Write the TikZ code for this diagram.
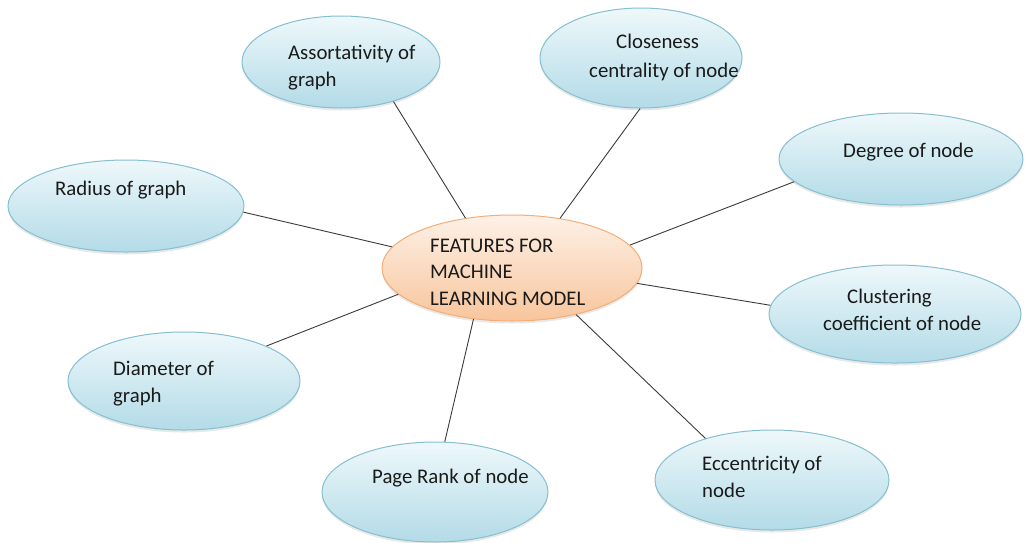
\documentclass[tikz,border=0pt]{standalone}
\usepackage{fontspec}
\setmainfont{Carlito}
\usetikzlibrary{shapes.geometric,shadows}
\definecolor{bluetop}{HTML}{EEF8FB}
\definecolor{bluebot}{HTML}{B3DBE7}
\definecolor{blueedge}{HTML}{86BFD0}
\definecolor{peachtop}{HTML}{FDF1E7}
\definecolor{peachbot}{HTML}{F8C59C}
\definecolor{peachedge}{HTML}{F3AE78}
\definecolor{linkcol}{HTML}{3A3A3A}
\definecolor{txtcol}{HTML}{1A1A1A}
\tikzset{
  feat/.style={ellipse, inner sep=0pt, line width=1pt, draw=blueedge,
    top color=bluetop, bottom color=bluebot,
    drop shadow={opacity=0.18, shadow xshift=0pt, shadow yshift=-2.5pt}},
  hub/.style={ellipse, inner sep=0pt, line width=1pt, draw=peachedge,
    top color=peachtop, bottom color=peachbot,
    drop shadow={opacity=0.18, shadow xshift=0pt, shadow yshift=-2.5pt}},
  lbl/.style={anchor=base west, inner sep=0pt, align=left, text=txtcol,
    font=\fontsize{20.8}{26.5}\selectfont},
  link/.style={draw=linkcol, line width=0.9pt}
}
\begin{document}
\begin{tikzpicture}[x=1pt,y=-1pt]
\useasboundingbox (0,0) rectangle (1025,542);
% ellipses
\node[feat, minimum width=198, minimum height=92] (A) at (341,62) {};
\node[feat, minimum width=202, minimum height=100] (K) at (641,58) {};
\node[feat, minimum width=244, minimum height=92] (D) at (901,159) {};
\node[feat, minimum width=236, minimum height=92] (R) at (126,206) {};
\node[hub, minimum width=260, minimum height=106] (C) at (512,268) {};
\node[feat, minimum width=252, minimum height=98] (L) at (895,314) {};
\node[feat, minimum width=232, minimum height=98] (M) at (184,381) {};
\node[feat, minimum width=226, minimum height=100] (P) at (435,492) {};
\node[feat, minimum width=234, minimum height=100] (E) at (772,480) {};
% connectors
\draw[link] (A.-37) -- (C.133);
\draw[link] (K.-91) -- (C.46);
\draw[link] (D.192) -- (C.11);
\draw[link] (R.-3) -- (C.170);
\draw[link] (L.176) -- (C.-7.6);
\draw[link] (M.23) -- (C.193);
\draw[link] (P.79) -- (C.-127);
\draw[link] (E.148) -- (C.-36);
% texts (multi-line nodes are placed by the baseline of their last line)
\node[lbl] (tA) at (288,86) {Assortativity of\\graph};
\node[lbl] (tK1) at (616,48) {Closeness};
\node[lbl] (tK2) at (589,77) {centrality of node};
\node[lbl] (tD) at (843,157) {Degree of node};
\node[lbl] (tR) at (55,195) {Radius of graph};
\node[lbl] (tC) at (430,305) {FEATURES FOR\\MACHINE\\LEARNING MODEL};
\node[lbl] (tL1) at (847,303) {Clustering};
\node[lbl] (tL2) at (823,330) {coefficient of node};
\node[lbl] (tM) at (113,402) {Diameter of\\graph};
\node[lbl] (tP) at (372,483) {Page Rank of node};
\node[lbl] (tE) at (702,497) {Eccentricity of\\node};
\end{tikzpicture}
\end{document}
